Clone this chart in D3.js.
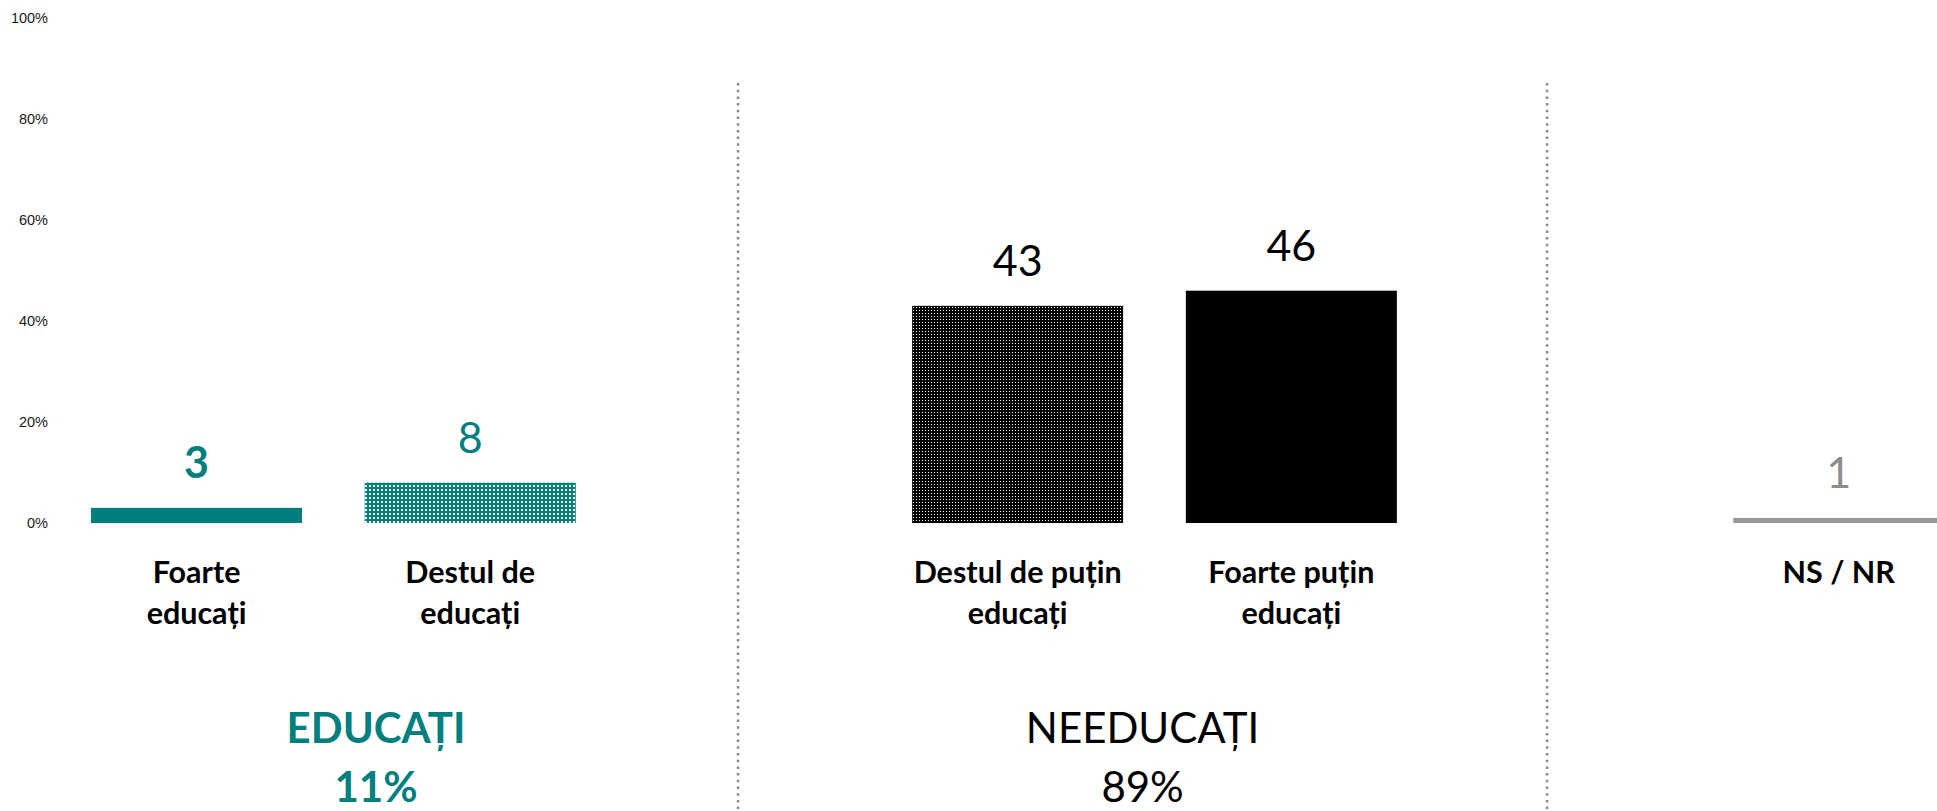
<!DOCTYPE html>
<html lang="ro">

<head>
  <meta charset="UTF-8">
  <title>Educați / Needucați</title>
  <style>
    body { margin: 0; background: #fff; }
    svg { display: block; }
    .tick text { font: 14.5px "Liberation Sans", Arial, sans-serif; fill: #1a1a1a; }
    .cat { font: bold 30.5px Lato, sans-serif; fill: #000; }
    .val { font: 43px Lato, sans-serif; }
    .grp { font: 42px Lato, sans-serif; }
  </style>
</head>

<body>
  <script src="https://cdn.jsdelivr.net/npm/d3@7"></script>
  <script>
    // date
    const categories = ["Foarte educați", "Destul de educați", "Destul de puțin educați", "Foarte puțin educați", "NS / NR"];
    const labelLines = [["Foarte", "educați"], ["Destul de", "educați"], ["Destul de puțin", "educați"], ["Foarte puțin", "educați"], ["NS / NR"]];
    const values = [3, 8, 43, 46, 1];
    // locuri pe axa x (doua goluri intre grupuri)
    const slots = ["Foarte educați", "Destul de educați", "gol1", "Destul de puțin educați", "Foarte puțin educați", "gol2", "NS / NR"];
    const groupNames = ["EDUCAȚI", "NEEDUCAȚI"];
    const groupTotals = [11, 89];
    const yTicks = [0, 20, 40, 60, 80, 100];

    const W = 1937, H = 811;
    const teal = "#007f7e";

    const svg = d3.select("body").append("svg")
      .attr("width", W)
      .attr("height", H);

    // modele de umplere (puncte)
    const defs = svg.append("defs");
    const dots = (id, bg, dotSize, cell) => {
      const p = defs.append("pattern")
        .attr("id", id)
        .attr("patternUnits", "userSpaceOnUse")
        .attr("width", cell).attr("height", cell);
      p.append("rect").attr("width", cell).attr("height", cell).attr("fill", bg);
      p.append("rect").attr("x", 1).attr("y", 1).attr("width", dotSize).attr("height", dotSize).attr("fill", "#fff");
    };
    dots("dotsTeal", teal, 2, 4);
    dots("dotsBlack", "#000", 1, 3);

    const fills = [teal, "url(#dotsTeal)", "url(#dotsBlack)", "#000", "#999"];
    const valColors = [teal, teal, "#000", "#000", "#8c8c8c"];
    const valWeights = ["bold", "normal", "normal", "normal", "normal"];

    const x = d3.scaleBand()
      .domain(slots)
      .range([59.7, 1975.6])
      .paddingInner(0.229)
      .paddingOuter(0.1145);

    const y = d3.scaleLinear()
      .domain([0, 100])
      .range([523, 18]);

    // axa y
    const yAxis = svg.append("g")
      .attr("transform", "translate(51,0)")
      .call(d3.axisLeft(y).tickValues(yTicks).tickFormat(d => d + "%").tickSize(0).tickPadding(3));
    yAxis.select(".domain").remove();

    // separatoare punctate
    const sepX = [x("gol1") + 0.472 * x.bandwidth(), x("gol2") + 0.415 * x.bandwidth()];
    svg.selectAll(".sep")
      .data(sepX)
      .enter()
      .append("line")
      .attr("class", "sep")
      .attr("x1", d => d).attr("x2", d => d)
      .attr("y1", 83).attr("y2", H)
      .attr("stroke", "#8a8a8a")
      .attr("stroke-width", 2.5)
      .attr("stroke-dasharray", "2.5,4.2");

    // bare
    svg.selectAll(".bar")
      .data(categories)
      .enter()
      .append("rect")
      .attr("class", "bar")
      .attr("x", d => x(d))
      .attr("y", (d, i) => y(values[i]))
      .attr("width", x.bandwidth())
      .attr("height", (d, i) => y(0) - y(values[i]))
      .attr("fill", (d, i) => fills[i]);

    // valori
    svg.selectAll(".val")
      .data(categories)
      .enter()
      .append("text")
      .attr("class", "val")
      .attr("x", d => x(d) + x.bandwidth() / 2)
      .attr("y", (d, i) => y(values[i]) - 30)
      .attr("text-anchor", "middle")
      .style("fill", (d, i) => valColors[i])
      .style("font-weight", (d, i) => valWeights[i])
      .text((d, i) => values[i]);

    // etichete categorii
    const cats = svg.selectAll(".cat")
      .data(categories)
      .enter()
      .append("text")
      .attr("class", "cat")
      .attr("text-anchor", "middle");
    cats.selectAll("tspan")
      .data((d, i) => labelLines[i].map(t => ({ t, cx: x(d) + x.bandwidth() / 2 })))
      .enter()
      .append("tspan")
      .attr("x", d => d.cx)
      .attr("y", (d, j) => 583 + j * 41)
      .text(d => d.t);

    // nume grupuri si totaluri
    const groupCx = [(14 + sepX[0]) / 2, (sepX[0] + sepX[1]) / 2];
    const grp = svg.selectAll(".grp")
      .data(groupNames)
      .enter()
      .append("text")
      .attr("class", "grp")
      .attr("text-anchor", "middle")
      .style("fill", (d, i) => i === 0 ? teal : "#000")
      .style("font-weight", (d, i) => i === 0 ? "bold" : "normal");
    grp.append("tspan")
      .attr("x", (d, i) => groupCx[i])
      .attr("y", 743)
      .text(d => d);
    grp.append("tspan")
      .attr("x", (d, i) => groupCx[i])
      .attr("y", 802)
      .text((d, i) => groupTotals[i] + "%");
  </script>
</body>

</html>
